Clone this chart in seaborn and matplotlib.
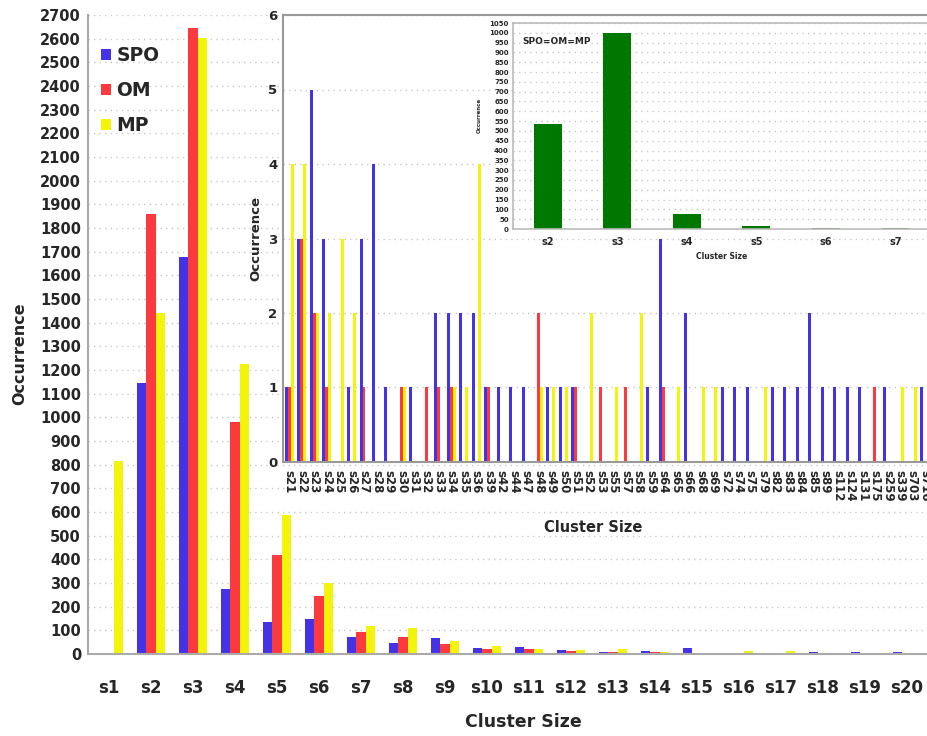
import matplotlib
matplotlib.use("Agg")
import matplotlib.pyplot as plt
import pandas as pd
import seaborn as sns

# main chart: cluster sizes s1..s20
sizes = ["s1", "s2", "s3", "s4", "s5", "s6", "s7", "s8", "s9", "s10",
         "s11", "s12", "s13", "s14", "s15", "s16", "s17", "s18", "s19", "s20"]
spo = [0, 1145, 1678, 275, 135, 150, 70, 45, 67, 27, 28, 17, 10, 12, 24, 6, 6, 8, 10, 8]
om = [0, 1860, 2645, 980, 420, 244, 95, 71, 42, 22, 20, 12, 10, 8, 5, 5, 3, 3, 4, 2]
mp = [815, 1440, 2602, 1225, 586, 298, 120, 108, 54, 33, 22, 17, 20, 10, 5, 14, 12, 4, 2, 3]

# zoomed inset: the large cluster sizes
big_sizes = ["s21", "s22", "s23", "s24", "s25", "s26", "s27", "s28", "s29", "s30",
             "s31", "s32", "s33", "s34", "s35", "s36", "s39", "s42", "s44", "s47",
             "s48", "s49", "s50", "s51", "s52", "s53", "s55", "s57", "s58", "s59",
             "s64", "s65", "s66", "s68", "s69", "s72", "s74", "s75", "s79", "s82",
             "s83", "s84", "s85", "s89", "s112", "s124", "s131", "s175", "s259", "s339",
             "s703", "s716"]
big_spo = [1, 3, 5, 3, 0, 1, 3, 4, 1, 0,
           1, 0, 2, 2, 2, 2, 1, 1, 1, 1,
           0, 1, 1, 1, 0, 0, 0, 0, 0, 1,
           3, 0, 2, 0, 0, 1, 1, 1, 0, 1,
           1, 1, 2, 1, 1, 1, 1, 0, 1, 0,
           0, 1]
big_om = [1, 3, 2, 1, 0, 0, 1, 0, 0, 1,
          0, 1, 1, 1, 0, 0, 1, 0, 0, 0,
          2, 0, 0, 1, 0, 1, 0, 1, 0, 0,
          1, 0, 0, 0, 0, 0, 0, 0, 0, 0,
          0, 0, 0, 0, 0, 0, 0, 1, 0, 0,
          0, 0]
big_mp = [4, 4, 2, 2, 3, 2, 0, 0, 0, 1,
          0, 0, 0, 1, 1, 4, 0, 0, 0, 0,
          1, 1, 1, 0, 2, 0, 1, 0, 2, 0,
          0, 1, 0, 1, 1, 0, 0, 0, 1, 0,
          0, 0, 0, 0, 0, 0, 0, 0, 0, 1,
          1, 0]

# second inset: SPO=OM=MP
eq_sizes = ["s2", "s3", "s4", "s5", "s6", "s7"]
eq_counts = [535, 1000, 75, 15, 5, 3]

methods = ["SPO", "OM", "MP"]
colours = ["#4433e6", "#fa3a3e", "#f4f40a"]
green = "#007800"


def long_form(cats, a, b, c):
    return pd.DataFrame({
        "size": cats * 3,
        "method": ["SPO"] * len(cats) + ["OM"] * len(cats) + ["MP"] * len(cats),
        "count": a + b + c,
    })


sns.set_style("white")
plt.rcParams["font.family"] = ["DejaVu Sans"]
plt.rcParams["font.weight"] = "bold"

W, H = 927, 736
fig = plt.figure(figsize=(W / 100, H / 100), dpi=100)


def box(l, t, r, b):
    return [l / W, 1 - b / H, (r - l) / W, (b - t) / H]


dots = dict(color="#c8c8c8", linestyle=(0, (1, 3)), linewidth=1)

# ---- main chart
ax = fig.add_axes(box(88, 15, 928, 654))
main_df = long_form(sizes, spo, om, mp)
sns.barplot(data=main_df, x="size", y="count", hue="method", hue_order=methods,
            palette=colours, width=0.66, gap=0, linewidth=0, saturation=1, ax=ax)
ax.set_ylim(0, 2700)
ax.set_xlim(-0.5, 19.5)
ax.set_yticks(range(0, 2800, 100))
ax.yaxis.grid(True, **dots)
ax.set_axisbelow(True)
ax.set_xticks([i + 0.5 for i in range(-1, 20)], minor=True)
ax.tick_params(axis="x", which="major", length=0, labelsize=12, pad=18)
ax.tick_params(axis="x", which="minor", length=5, color="#aaaaaa", width=1)
ax.tick_params(axis="y", length=0, labelsize=10.5, pad=5)
for s in ["top", "right"]:
    ax.spines[s].set_visible(False)
for s in ["left", "bottom"]:
    ax.spines[s].set_color("#aaaaaa")
    ax.spines[s].set_linewidth(1.5)
ax.set_xlabel("Cluster Size", fontsize=12.5, fontweight="bold")
ax.xaxis.set_label_coords(0.518, -0.092)
ax.set_ylabel("Occurrence", fontsize=11.5, fontweight="bold")
ax.yaxis.set_label_coords(-0.072, 0.47)
ax.legend(loc="upper left", bbox_to_anchor=(-0.005, 0.978), frameon=False,
          handlelength=0.55, handleheight=0.55, handletextpad=0.3,
          labelspacing=0.85, prop={"weight": "bold", "size": 13.5})

# ---- first inset: big clusters
ax2 = fig.add_axes(box(283, 15, 931, 462))
big_df = long_form(big_sizes, big_spo, big_om, big_mp)
sns.barplot(data=big_df, x="size", y="count", hue="method", hue_order=methods,
            palette=colours, width=0.72, gap=0, linewidth=0, saturation=1, ax=ax2)
ax2.legend_.remove()
ax2.set_ylim(0, 6)
ax2.set_xlim(-0.5, 51.5)
ax2.set_yticks(range(0, 7))
ax2.yaxis.grid(True, **dots)
ax2.set_axisbelow(True)
ax2.tick_params(axis="x", length=3, color="#bbbbbb", labelsize=8.5, pad=3)
ax2.tick_params(axis="y", length=0, labelsize=9.5, pad=4)
for lab in ax2.get_xticklabels():
    lab.set_rotation(-90)
    lab.set_va("top")
    lab.set_ha("center")
for s in ax2.spines.values():
    s.set_color("#999999")
    s.set_linewidth(1.5)
ax2.set_xlabel("Cluster Size", fontsize=10.5, fontweight="bold")
ax2.xaxis.set_label_coords(0.478, -0.13)
ax2.set_ylabel("Occurrence", fontsize=9.5, fontweight="bold")
ax2.yaxis.set_label_coords(-0.032, 0.5)

# ---- second inset: identical results
ax3 = fig.add_axes(box(513, 23, 965, 229))
sns.barplot(x=eq_sizes, y=eq_counts, color=green, width=0.4, linewidth=0,
            saturation=1, ax=ax3)
ax3.set_ylim(0, 1050)
ax3.set_xlim(-0.5, 6.0)
ax3.set_yticks(range(0, 1100, 50))
ax3.yaxis.grid(True, **dots)
ax3.set_axisbelow(True)
ax3.tick_params(axis="x", length=2, color="#bbbbbb", labelsize=7, pad=4)
ax3.tick_params(axis="y", length=0, labelsize=5, pad=3)
for s in ax3.spines.values():
    s.set_color("#bbbbbb")
    s.set_linewidth(1.2)
ax3.text(0.02, 0.9, "SPO=OM=MP", transform=ax3.transAxes, fontsize=6.5,
         fontweight="bold")
ax3.set_xlabel("Cluster Size", fontsize=5.5, fontweight="bold")
ax3.xaxis.set_label_coords(0.462, -0.11)
ax3.set_ylabel("Occurrence", fontsize=4, fontweight="bold")
ax3.yaxis.set_label_coords(-0.07, 0.55)

fig.savefig("out.png", dpi=100)
